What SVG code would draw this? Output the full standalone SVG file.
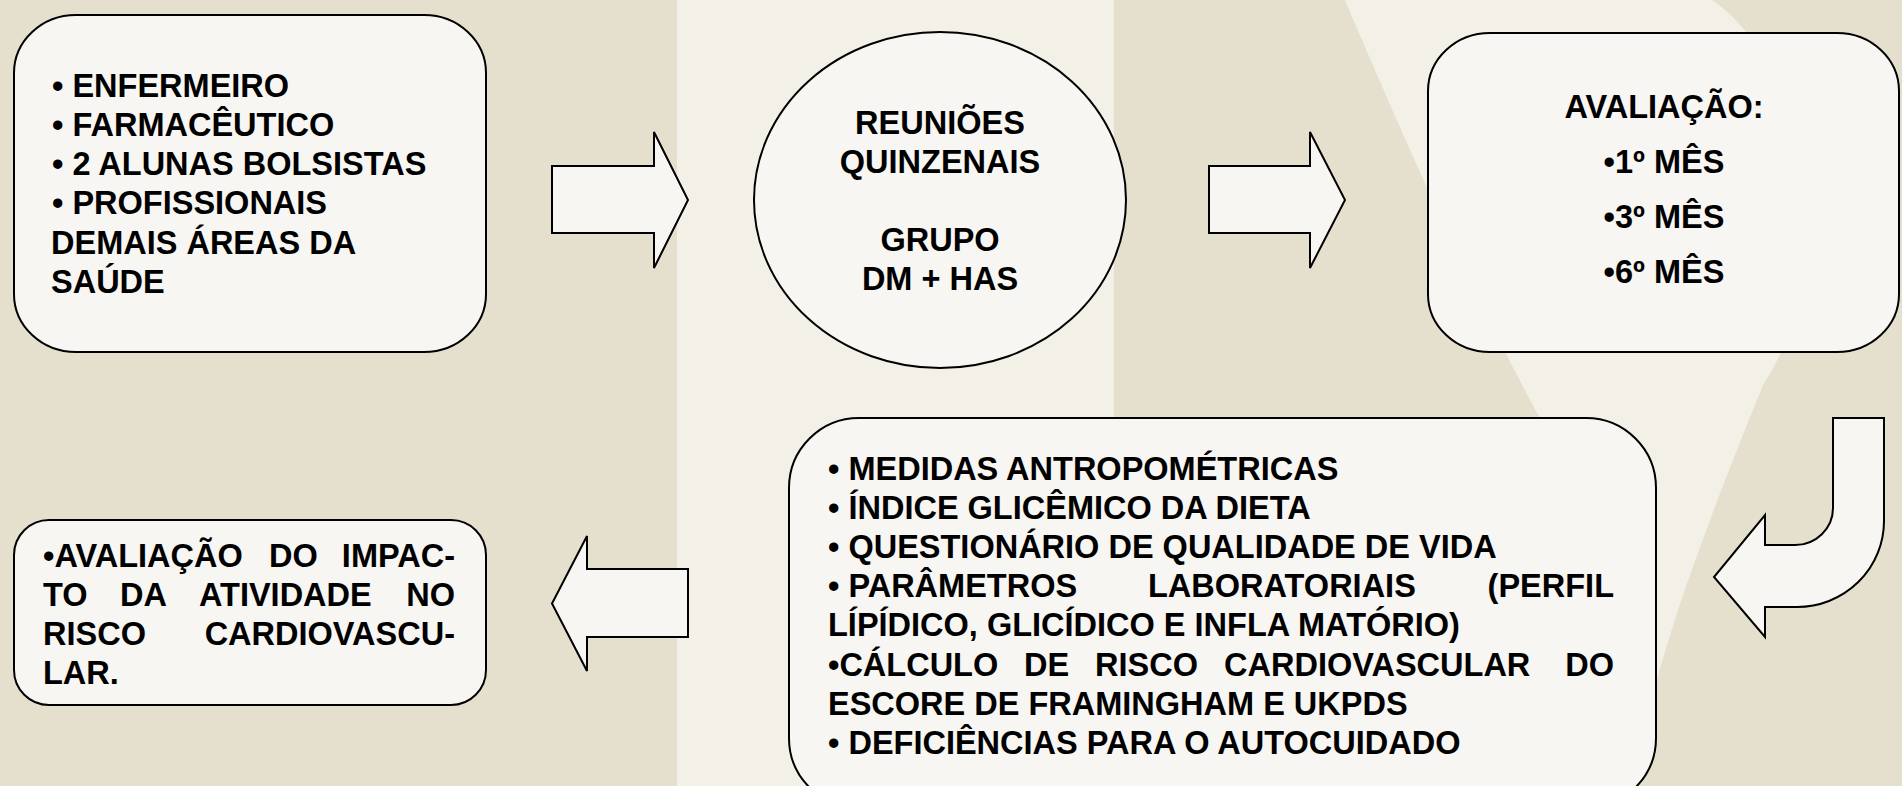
<svg xmlns="http://www.w3.org/2000/svg" width="1902" height="786" viewBox="0 0 1902 786">
<defs>
<style>
.node{fill:#f8f6f2;stroke:#000;stroke-width:2}
.arr{fill:#f8f6f2;stroke:#000;stroke-width:2;stroke-linejoin:miter}
.t{font-family:"Liberation Sans",Arial,Helvetica,sans-serif;font-weight:bold;font-size:32.5px;fill:#000}
.c{text-anchor:middle}
.e{text-anchor:end}
</style>
</defs>
<g id="background">
<rect x="0" y="0" width="1902" height="786" fill="#e5dfcd"/>
<rect x="677" y="0" width="437" height="786" fill="#f3f1e7"/>
<path d="M1345,0 C1400,130 1480,310 1540,418 C1580,500 1620,600 1650,710 C1665,640 1700,540 1763,385 C1850,250 1800,60 1712,0 Z" fill="#f3f1e7"/>
</g>
<g id="connectors">
<path class="arr" d="M552,166 L654,166 L654,132 L688,200 L654,268 L654,233 L552,233 Z"/>
<path class="arr" d="M1209,166 L1310,166 L1310,132 L1345,200 L1310,268 L1310,233 L1209,233 Z"/>
<path class="arr" d="M1833,418 L1884,418 L1884,521 A87,86 0 0 1 1797,607 L1765,607 L1765,637 L1714,577 L1765,515 L1765,545 L1795,545 A38,37 0 0 0 1833,508 Z"/>
<path class="arr" d="M688,569 L587,569 L587,536 L552,603.5 L587,671 L587,637 L688,637 Z"/>
</g>
<g id="node-equipe">
<rect class="node" x="14" y="15" width="472" height="337" rx="62" ry="58"/>
<text class="t" x="52" y="97">• ENFERMEIRO</text>
<text class="t" x="52" y="136">• FARMACÊUTICO</text>
<text class="t" x="52" y="175">• 2 ALUNAS BOLSISTAS</text>
<text class="t" x="52" y="214">• PROFISSIONAIS</text>
<text class="t" x="51" y="254">DEMAIS ÁREAS DA</text>
<text class="t" x="51" y="293">SAÚDE</text>
</g>
<g id="node-reunioes">
<ellipse class="node" cx="940" cy="200" rx="186" ry="168"/>
<text class="t c" x="940" y="134">REUNIÕES</text>
<text class="t c" x="940" y="173">QUINZENAIS</text>
<text class="t c" x="940" y="251">GRUPO</text>
<text class="t c" x="940" y="290">DM + HAS</text>
</g>
<g id="node-avaliacao">
<rect class="node" x="1428" y="33" width="471" height="319" rx="62" ry="58"/>
<text class="t c" x="1664" y="118">AVALIAÇÃO:</text>
<text class="t c" x="1664" y="173">•1º MÊS</text>
<text class="t c" x="1664" y="228">•3º MÊS</text>
<text class="t c" x="1664" y="283">•6º MÊS</text>
</g>
<g id="node-medidas">
<rect class="node" x="789" y="418" width="867" height="390" rx="70" ry="70"/>
<text class="t" x="828" y="480">• MEDIDAS ANTROPOMÉTRICAS</text>
<text class="t" x="828" y="519">• ÍNDICE GLICÊMICO DA DIETA</text>
<text class="t" x="828" y="558">• QUESTIONÁRIO DE QUALIDADE DE VIDA</text>
<text class="t" y="597"><tspan x="828">• PARÂMETROS</tspan><tspan x="1148">LABORATORIAIS</tspan><tspan class="e" x="1614" text-anchor="end">(PERFIL</tspan></text>
<text class="t" x="828" y="636">LÍPÍDICO, GLICÍDICO E INFLA MATÓRIO)</text>
<text class="t" y="676"><tspan x="828">•CÁLCULO</tspan><tspan x="1024">DE</tspan><tspan x="1095">RISCO</tspan><tspan x="1224">CARDIOVASCULAR</tspan><tspan x="1614" text-anchor="end">DO</tspan></text>
<text class="t" x="828" y="715">ESCORE DE FRAMINGHAM E UKPDS</text>
<text class="t" x="828" y="754">• DEFICIÊNCIAS PARA O AUTOCUIDADO</text>
</g>
<g id="node-impacto">
<rect class="node" x="14" y="520" width="472" height="185" rx="35" ry="35"/>
<text class="t" y="567"><tspan x="43">•AVALIAÇÃO</tspan><tspan x="269">DO</tspan><tspan x="455" text-anchor="end">IMPAC-</tspan></text>
<text class="t" y="606"><tspan x="43">TO</tspan><tspan x="120">DA</tspan><tspan x="199">ATIVIDADE</tspan><tspan x="455" text-anchor="end">NO</tspan></text>
<text class="t" y="645"><tspan x="43">RISCO</tspan><tspan x="455" text-anchor="end">CARDIOVASCU-</tspan></text>
<text class="t" x="43" y="684">LAR.</text>
</g>
</svg>
